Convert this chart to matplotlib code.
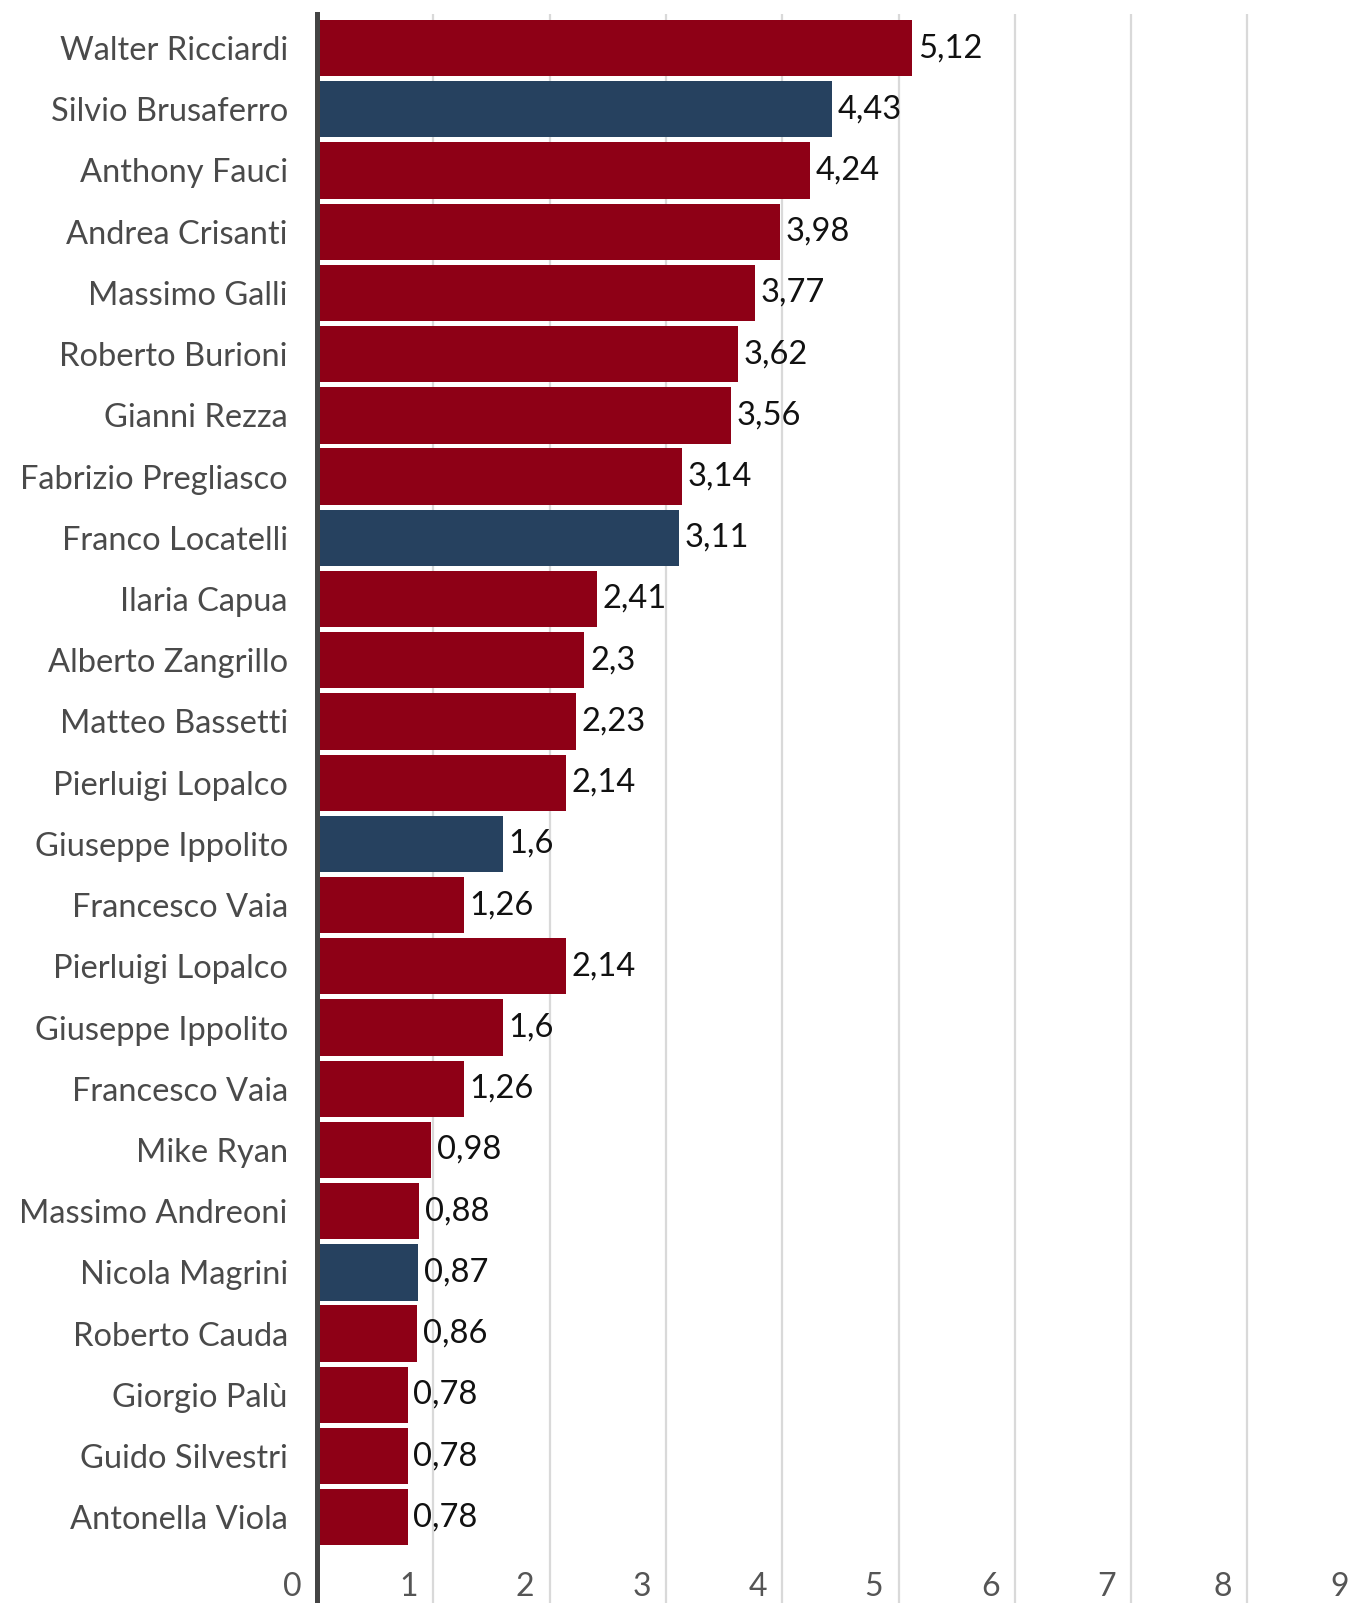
import matplotlib

matplotlib.use("Agg")

import matplotlib.pyplot as plt
from matplotlib.transforms import blended_transform_factory

RED = "#8e0016"
BLUE = "#26415f"

names = [
    "Walter Ricciardi", "Silvio Brusaferro", "Anthony Fauci", "Andrea Crisanti",
    "Massimo Galli", "Roberto Burioni", "Gianni Rezza", "Fabrizio Pregliasco",
    "Franco Locatelli", "Ilaria Capua", "Alberto Zangrillo", "Matteo Bassetti",
    "Pierluigi Lopalco", "Giuseppe Ippolito", "Francesco Vaia", "Pierluigi Lopalco",
    "Giuseppe Ippolito", "Francesco Vaia", "Mike Ryan", "Massimo Andreoni",
    "Nicola Magrini", "Roberto Cauda", "Giorgio Palù", "Guido Silvestri",
    "Antonella Viola",
]
values = [
    5.12, 4.43, 4.24, 3.98, 3.77, 3.62, 3.56, 3.14, 3.11, 2.41, 2.3, 2.23, 2.14,
    1.6, 1.26, 2.14, 1.6, 1.26, 0.98, 0.88, 0.87, 0.86, 0.78, 0.78, 0.78,
]
# "b" = institutional role, "r" = everyone else
groups = list("rbrrrrrrbrrrrbrrrrrrbrrrr")
x_ticks = list(range(0, 10))

plt.rcParams["font.family"] = ["Lato", "DejaVu Sans"]

fig = plt.figure(figsize=(13.53, 16.03), dpi=100)
ax = fig.add_axes([0.2343, 0.0, 0.7908, 0.9913])

ypos = list(range(len(names)))
colors = [BLUE if g == "b" else RED for g in groups]
ax.barh(ypos, values, height=0.92, color=colors, zorder=2)

for y, v in zip(ypos, values):
    ax.annotate(f"{v:g}".replace(".", ","), (v, y), xytext=(4, 0),
                textcoords="offset points", va="center", ha="left",
                fontsize=23.5, color="#111111")

ax.set_xlim(0, 9.2)
ax.set_ylim(25.4, -0.557)

for k in x_ticks[1:]:
    ax.axvline(k, color="#d9d9d9", linewidth=1.6, zorder=1)

# x tick labels sit inside the plot, just left of each gridline
trans = blended_transform_factory(ax.transData, ax.transAxes)
for k in x_ticks:
    ax.annotate(str(k), (k, 0.0101), xycoords=trans, xytext=(-11, 0),
                textcoords="offset points", ha="right", va="center",
                fontsize=23, color="#555555")

ax.set_xticks([])
ax.set_yticks(ypos)
ax.set_yticklabels(names, fontsize=23.5, color="#4a4a4a")
ax.tick_params(axis="y", length=0, pad=21)

for side in ("top", "right", "bottom"):
    ax.spines[side].set_visible(False)
ax.spines["left"].set_color("#444444")
ax.spines["left"].set_linewidth(3.6)
ax.spines["left"].set_zorder(3)

fig.savefig("out.png", dpi=100)
